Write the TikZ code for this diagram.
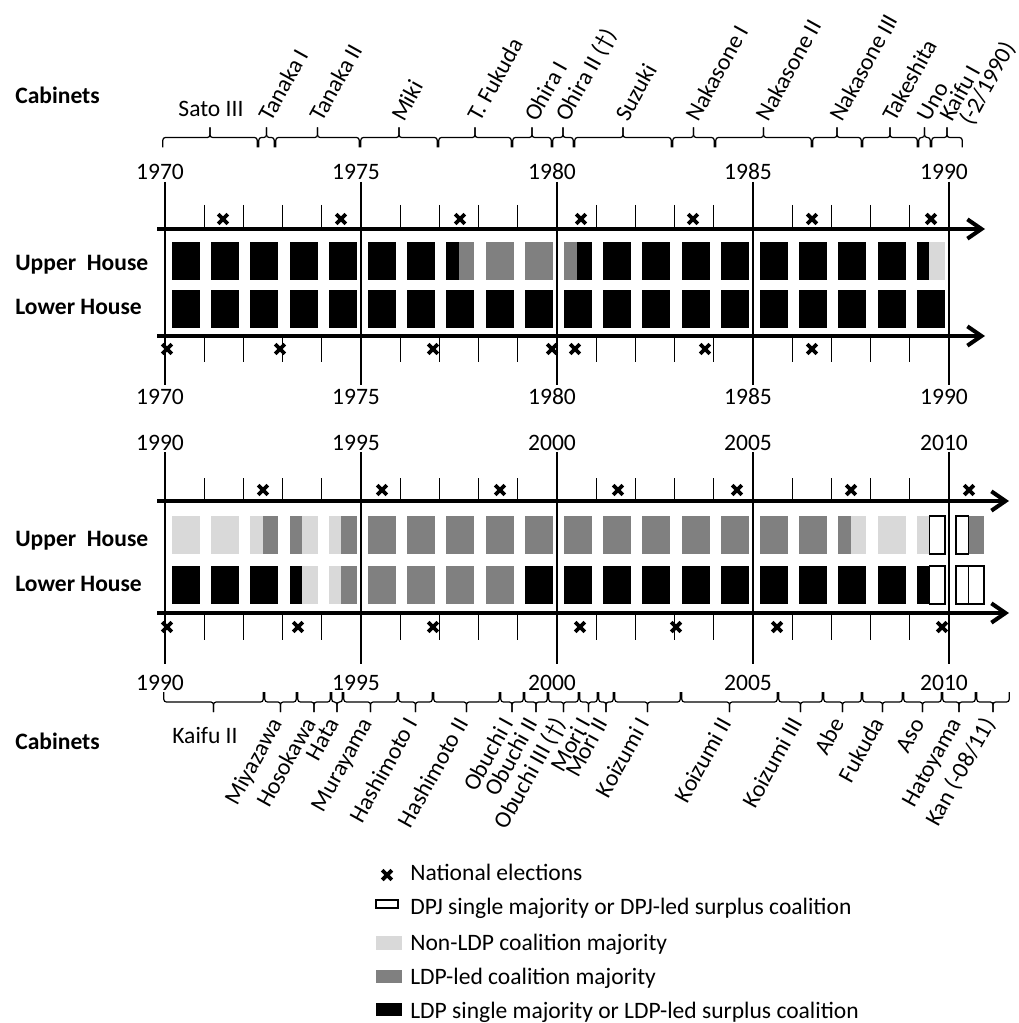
\documentclass[tikz,border=0pt]{standalone}
\usepackage{fontspec}
\setmainfont{Carlito}
\usetikzlibrary{arrows.meta}

\definecolor{coalgray}{HTML}{808080}
\definecolor{nonldpgray}{HTML}{D9D9D9}
\newcommand{\chartfont}{\fontsize{13.4}{16}\selectfont}

\tikzset{
  ldp/.style={fill=black},
  ldpco/.style={fill=coalgray},
  nonldp/.style={fill=nonldpgray},
  dpj/.style={fill=white, draw=black, line width=0.9pt},
  timeaxis/.style={line width=2.3pt, -{Straight Barb[length=8pt,width=11pt]}},
  fiveyear/.style={line width=0.8pt},
  yeartick/.style={line width=0.6pt},
  cabline/.style={line width=0.7pt, rounded corners=1.5pt},
  elect/.style={line width=2.2pt},
  txt/.style={inner sep=0pt, anchor=base, font=\chartfont},
  rowname/.style={inner sep=0pt, anchor=base west, font=\chartfont\bfseries},
  cabup/.style={inner sep=0pt, rotate=61, anchor=base west, font=\chartfont},
  cabdown/.style={inner sep=0pt, rotate=61, anchor=base east, font=\chartfont},
  legtext/.style={inner sep=0pt, anchor=base west, font=\chartfont},
}

% one year: #1 index, #2 top, #3 first half, #4 second half
\newcommand{\yearbox}[4]{%
  \path[#3] ({165+39.2*#1+7},#2) rectangle ({165+39.2*(#1+0.5)},#2+38);
  \path[#4] ({165+39.2*(#1+0.5)},#2) rectangle ({165+39.2*#1+35},#2+38);}

% cabinet bracket: #1 left, #2 right, #3 bar, #4 end offset
\newcommand{\cabbrace}[4]{%
  \pgfmathsetmacro\cabmid{(#1+#2)/2}
  \draw[cabline] ({#1+0.8},{#3+(#4)}) -- ({#1+0.8},#3) -- (\cabmid,#3) -- (\cabmid,{#3-(#4)});
  \draw[cabline] (\cabmid,{#3-(#4)}) -- (\cabmid,#3) -- ({#2-0.8},#3) -- ({#2-0.8},{#3+(#4)});}

\newcommand{\elect}[2]{\draw[elect] (#1-4.8,#2-4.8) -- (#1+4.8,#2+4.8) (#1-4.8,#2+4.8) -- (#1+4.8,#2-4.8);}

\begin{document}
\begin{tikzpicture}[x=0.02cm, y=-0.02cm]
  \useasboundingbox (0,0) rectangle (1018,1023);

  %%% 1970--1990
  \node[rowname] (cabinets1) at (15,104) {Cabinets};
  \node[rowname] (upper1) at (15,271) {Upper~ House};
  \node[rowname] (lower1) at (15,315) {Lower House};

  \foreach \i/\yr in {0/1970,5/1975,10/1980,15/1985,20/1990} {
    \draw[fiveyear] ({165+39.2*\i},182) -- ({165+39.2*\i},385);
    \node[txt] (topa\yr) at ({160+39.2*\i},180) {\yr};
    \node[txt] (topb\yr) at ({160+39.2*\i},404) {\yr};
  }
  \foreach \i in {1,...,19} {
    \draw[yeartick] ({165+39.2*\i},205) -- ({165+39.2*\i},229);
    \draw[yeartick] ({165+39.2*\i},336) -- ({165+39.2*\i},362);
  }
  \draw[timeaxis] (157,229) -- (985,229);
  \draw[timeaxis] (157,336) -- (985,336);

  \foreach \i/\a/\b in {0/ldp/ldp,1/ldp/ldp,2/ldp/ldp,3/ldp/ldp,4/ldp/ldp,5/ldp/ldp,6/ldp/ldp,
      7/ldp/ldpco,8/ldpco/ldpco,9/ldpco/ldpco,10/ldpco/ldp,11/ldp/ldp,12/ldp/ldp,13/ldp/ldp,
      14/ldp/ldp,15/ldp/ldp,16/ldp/ldp,17/ldp/ldp,18/ldp/ldp,19/ldp/nonldp}
    {\yearbox{\i}{242}{\a}{\b}}
  \foreach \i in {0,...,19} {\yearbox{\i}{290}{ldp}{ldp}}

  \foreach \x in {223,341,460,581,693,812,931} {\elect{\x}{219}}
  \foreach \x in {167,280,433,552,575,705,812} {\elect{\x}{349}}

  \cabbrace{162}{258}{137.5}{10}
  \node[txt] (sato3) at (211,117) {Sato III};
  \foreach \l/\r/\nm [count=\k] in {258/275/Tanaka I, 275/360/Tanaka II, 360/438/Miki,
      438/512/T. Fukuda, 512/552/Ohira I, 552/574/Ohira II (\textdagger), 574/672/Suzuki,
      672/715/Nakasone I, 715/812/Nakasone II, 812/862/Nakasone III, 862/918/Takeshita,
      918/931/Uno, 931/963/Kaifu I} {
    \cabbrace{\l}{\r}{137.5}{10}
    \node[cabup] (ctop\k) at ({(\l+\r)/2+5},123) {\nm};
  }
  \node[cabup] (ctopkaifu) at (972,127) {(-2/1990)};

  %%% 1990--2011
  \node[rowname] (upper2) at (15,546) {Upper~ House};
  \node[rowname] (lower2) at (15,591) {Lower House};
  \node[rowname] (cabinets2) at (15,749) {Cabinets};

  \foreach \i/\yr in {0/1990,5/1995,10/2000,15/2005,20/2010} {
    \draw[fiveyear] ({165+39.2*\i},452) -- ({165+39.2*\i},664);
    \node[txt] (bota\yr) at ({160+39.2*\i},450) {\yr};
    \node[txt] (botb\yr) at ({160+39.2*\i},690) {\yr};
  }
  \foreach \i in {1,...,19} {
    \draw[yeartick] ({165+39.2*\i},478) -- ({165+39.2*\i},501);
    \draw[yeartick] ({165+39.2*\i},613) -- ({165+39.2*\i},640);
  }
  \draw[timeaxis] (157,501) -- (1009,501);
  \draw[timeaxis] (157,613) -- (1009,613);

  \foreach \i/\a/\b in {0/nonldp/nonldp,1/nonldp/nonldp,2/nonldp/ldpco,3/ldpco/nonldp,
      4/nonldp/ldpco,17/ldpco/nonldp,18/nonldp/nonldp,19/nonldp/dpj,20/dpj/ldpco}
    {\yearbox{\i}{516}{\a}{\b}}
  \foreach \i in {5,...,16} {\yearbox{\i}{516}{ldpco}{ldpco}}
  \foreach \i/\a/\b in {0/ldp/ldp,1/ldp/ldp,2/ldp/ldp,3/ldp/nonldp,4/nonldp/ldpco,
      19/ldp/dpj,20/dpj/dpj}
    {\yearbox{\i}{566}{\a}{\b}}
  \foreach \i in {5,...,8} {\yearbox{\i}{566}{ldpco}{ldpco}}
  \foreach \i in {9,...,18} {\yearbox{\i}{566}{ldp}{ldp}}

  \foreach \x in {263,382,500,618,737,851,969} {\elect{\x}{490}}
  \foreach \x in {167,298,433,580,676,777,942} {\elect{\x}{627}}

  \cabbrace{163}{264}{702}{-10}
  \node[txt] (kaifu2) at (205,743) {Kaifu II};
  \foreach \l/\r/\nm [count=\k] in {264/297/Miyazawa, 297/331/Hosokawa, 331/343/Hata,
      343/398/Murayama, 398/433/Hashimoto I, 433/500/Hashimoto II, 500/524/Obuchi I,
      524/548/Obuchi II, 548/579/Obuchi III (\textdagger), 579/598/Mori I, 598/614/Mori II,
      614/681/Koizumi I, 681/778/Koizumi II, 778/823/Koizumi III, 823/862/Abe,
      862/903/Fukuda, 903/942/Aso, 942/976/Hatoyama, 976/1010/{Kan (-08/11)}} {
    \cabbrace{\l}{\r}{702}{-10}
    \node[cabdown] (cbot\k) at ({(\l+\r)/2+3},723) {\nm};
  }

  %%% legend
  \elect{387}{875}
  \node[legtext] (legelect) at (410,880) {National elections};
  \path[dpj] (376,900) rectangle (398,908);
  \node[legtext] (legdpj) at (410,914) {DPJ single majority or DPJ-led surplus coalition};
  \path[nonldp] (376,936) rectangle (402,950);
  \node[legtext] (legnon) at (410,950) {Non-LDP coalition majority};
  \path[ldpco] (376,970) rectangle (402,983);
  \node[legtext] (legco) at (410,984) {LDP-led coalition majority};
  \path[ldp] (376,1003) rectangle (402,1016);
  \node[legtext] (legldp) at (410,1018) {LDP single majority or LDP-led surplus coalition};
\end{tikzpicture}
\end{document}
